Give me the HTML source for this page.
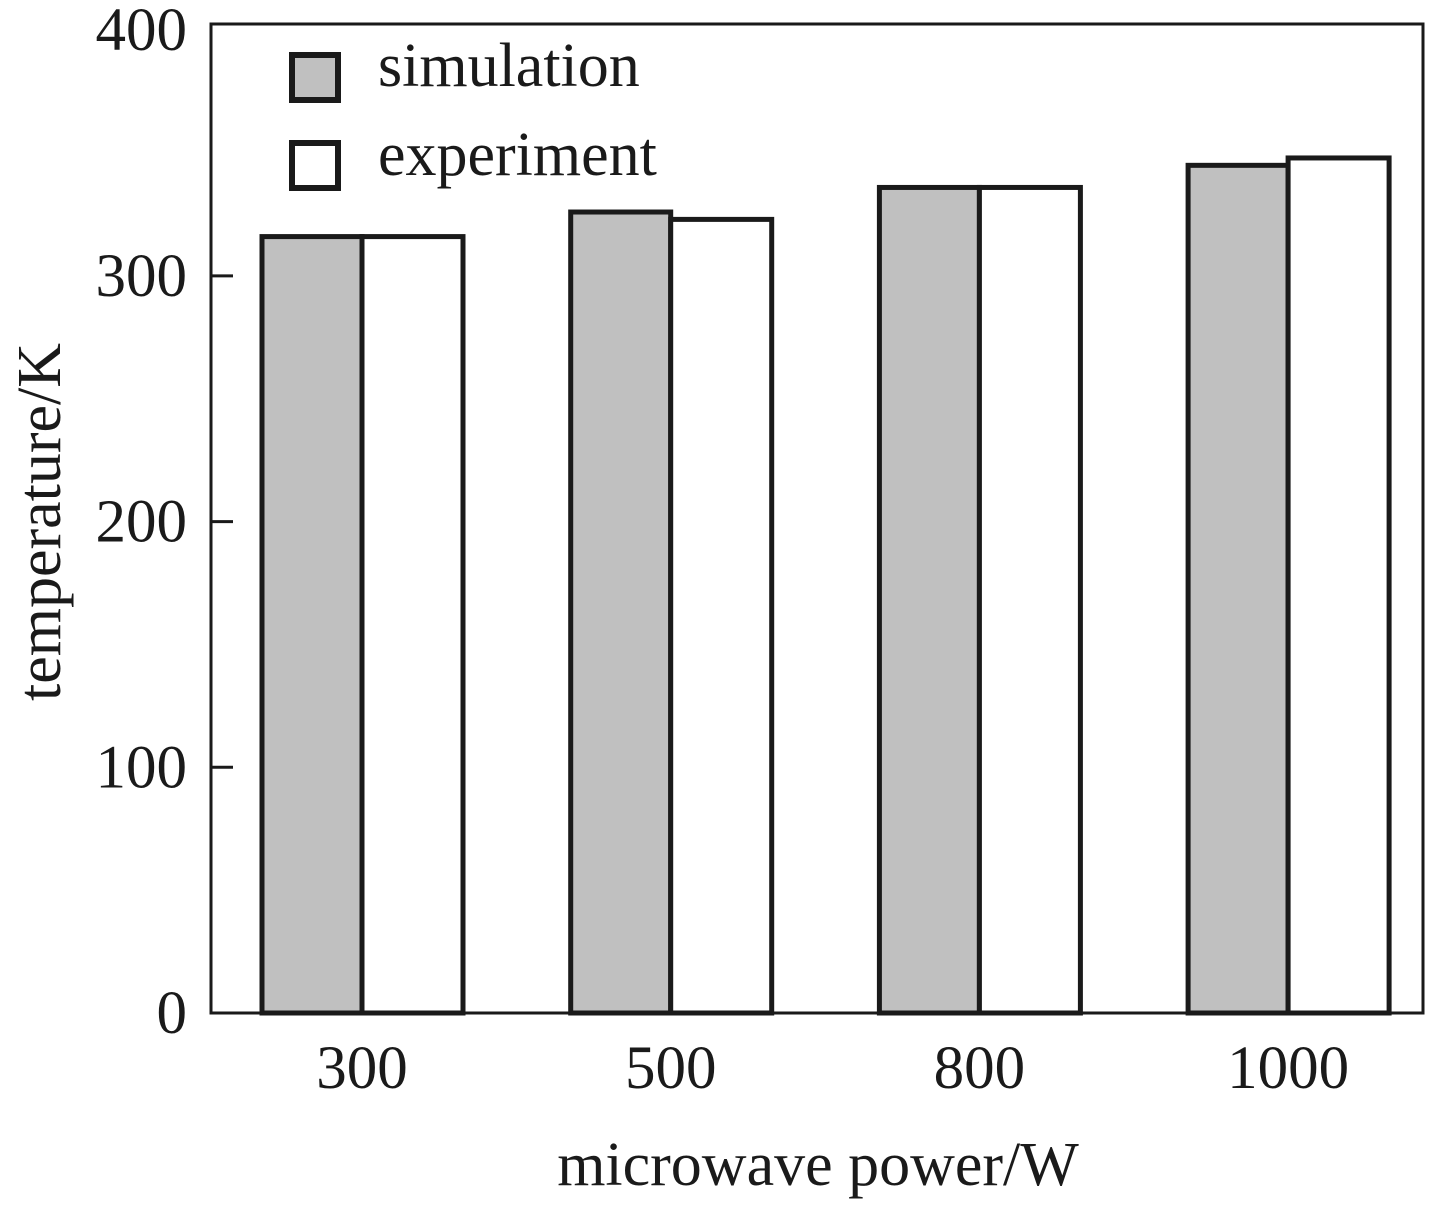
<!DOCTYPE html>
<html><head><meta charset="utf-8"><style>
html,body{margin:0;padding:0;background:#fff}
svg{display:block;font-family:"Liberation Serif",serif}
</style></head><body>
<svg id="c" width="1438" height="1205" viewBox="0 0 1438 1205">
<rect x="211" y="24" width="1212" height="989" fill="none" stroke="#1a1a1a" stroke-width="3"/>
<g id="bars"></g>
<g id="axes"></g>
<rect x="292" y="55" width="46" height="45" fill="#c0c0c0" stroke="#1a1a1a" stroke-width="6"/>
<text x="378" y="86" font-size="62" fill="#1a1a1a">simulation</text>
<text x="378" y="175" font-size="62" fill="#1a1a1a">experiment</text>
<rect x="292" y="143" width="46" height="45" fill="#fff" stroke="#1a1a1a" stroke-width="6"/>
<text x="818" y="1185" font-size="62" text-anchor="middle" fill="#1a1a1a">microwave power/W</text>
<text transform="translate(60,522) rotate(-90)" font-size="62" text-anchor="middle" fill="#1a1a1a">temperature/K</text>
</svg>
<script>
const categories = ["300","500","800","1000"];
const simulation = [316, 326, 336, 345];
const experiment = [316, 323, 336, 348];
const yTicks = [0,100,200,300,400];
const NS="http://www.w3.org/2000/svg";
const y0=1013, pxPer=2.457;
function yS(v){return y0-v*pxPer;}
function xC(i){return 362+i*308.7;}
const bars=document.getElementById('bars'), axes=document.getElementById('axes');
function mk(tag,attrs,parent){const e=document.createElementNS(NS,tag);for(const k in attrs)e.setAttribute(k,attrs[k]);parent.appendChild(e);return e;}
categories.forEach((c,i)=>{
  const cx=xC(i);
  const s=mk('rect',{x:cx-100,y:yS(simulation[i]),width:100,height:y0-yS(simulation[i]),fill:'#c0c0c0',stroke:'#1a1a1a','stroke-width':5},bars);
  
  
  const e=mk('rect',{x:cx,y:yS(experiment[i]),width:101,height:y0-yS(experiment[i]),fill:'#fff',stroke:'#1a1a1a','stroke-width':5},bars);
  
  
  const t=mk('text',{x:cx,y:1088,'font-size':61,'text-anchor':'middle',fill:'#1a1a1a'},axes);
  t.textContent=c;
  
  
});
yTicks.forEach(v=>{
  const y=yS(v);
  if(v>0&&v<400){const l=mk('line',{x1:211,x2:233,y1:y,y2:y,stroke:'#1a1a1a','stroke-width':3},axes);
  
  }
  const t=mk('text',{x:187,y:y+20,'font-size':61,'text-anchor':'end',fill:'#1a1a1a'},axes);
  t.textContent=v;
  
  
});
</script>
</body></html>
